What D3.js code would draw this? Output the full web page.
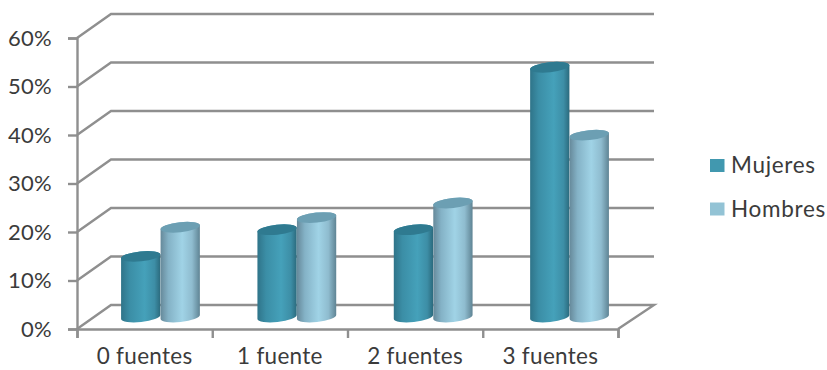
<!DOCTYPE html>
<html>
<head>
<meta charset="utf-8">
<script src="https://cdn.jsdelivr.net/npm/d3@7/dist/d3.min.js"></script>
<style>
  html, body { margin: 0; padding: 0; background: #fff; }
  svg { display: block; }
  text { font-family: Lato, "Open Sans", sans-serif; fill: #3b3b3b; }
</style>
</head>
<body>
<svg id="chart" width="827" height="370"></svg>
<script>
const categories = ["0 fuentes", "1 fuente", "2 fuentes", "3 fuentes"];
const seriesNames = ["Mujeres", "Hombres"];
const mujeres = [12.5, 18, 18, 51.5];
const hombres = [18.5, 20.5, 23.5, 37.5];
const percentTicks = [0, 10, 20, 30, 40, 50, 60];

const svg = d3.select("#chart");
const axisColor = "#8f8f8f";

// Plot frame: front floor edge plus the depth offset of the back wall.
const frame = { left: 77, right: 618, top: 38, bottom: 329 };
const depth = { dx: 34, dy: -24 };

const x = d3.scaleBand().domain(categories).range([frame.left, frame.right]);
const y = d3.scaleLinear().domain([0, 60]).range([frame.bottom, frame.top]);
// Cylinders stand on the mid-depth plane of the floor, so their bands run a little wider.
const xBars = d3.scaleBand().domain(categories).range([92.3, 637.7]);
const series = d3.scaleBand().domain(seriesNames).range([-39.5, 39.5]);

// Horizontal shading across each cylinder.
const defs = svg.append("defs");
function shade(id, stops) {
  const g = defs.append("linearGradient").attr("id", id)
    .attr("x1", 0).attr("x2", 1).attr("y1", 0).attr("y2", 0);
  stops.forEach(([o, c]) => g.append("stop").attr("offset", o).attr("stop-color", c));
}
shade("bodyMujeres", [[0, "#2f7489"], [0.22, "#3b8ea6"], [0.6, "#45a1ba"], [0.85, "#3d8ea6"], [1, "#2b6a7d"]]);
shade("bodyHombres", [[0, "#66899a"], [0.2, "#84b2c6"], [0.55, "#a0d3e6"], [0.8, "#8fbccf"], [1, "#5f8494"]]);
const seriesStyle = {
  Mujeres: { body: "url(#bodyMujeres)", cap: "#2f7a90", swatch: "#4198af" },
  Hombres: { body: "url(#bodyHombres)", cap: "#6c9fb3", swatch: "#93c3d5" }
};

// Walls and floor.
const frameLayer = svg.append("g").attr("fill", "none")
  .attr("stroke", axisColor).attr("stroke-width", 2.4);
frameLayer.selectAll("path.grid").data(percentTicks).join("path")
  .attr("class", "grid")
  .attr("d", v => `M${frame.left},${y(v)}l${depth.dx},${depth.dy}` +
    (v === 0 ? `H${frame.right + depth.dx + 2}l${-(depth.dx + 2)},${-depth.dy}`
             : `H${frame.right + depth.dx + 2}`));

function styleAxisText(sel, size) {
  sel.attr("font-size", size)
    .style("font-family", "Lato, sans-serif")
    .style("letter-spacing", "0.3px")
    .style("fill", "#3b3b3b");
}

// Value axis.
const yAxis = svg.append("g")
  .attr("transform", `translate(${frame.left},0)`)
  .call(d3.axisLeft(y).tickValues(percentTicks).tickSize(9).tickPadding(16)
    .tickFormat(d => d + "%"));
yAxis.selectAll("path,line").attr("stroke", axisColor).attr("stroke-width", 2.4);
styleAxisText(yAxis.selectAll("text"), 22);

// Category axis: labels centred on bands, ticks on band boundaries.
const boundary = d3.scaleLinear().domain([0, categories.length]).range([frame.left, frame.right]);
const xTicks = svg.append("g").attr("transform", `translate(0,${frame.bottom})`)
  .call(d3.axisBottom(boundary).tickValues(d3.range(categories.length + 1)).tickSize(9).tickFormat(""));
xTicks.selectAll("path,line").attr("stroke", axisColor).attr("stroke-width", 2.4);
const xLabels = svg.append("g").attr("transform", `translate(0,${frame.bottom})`)
  .call(d3.axisBottom(x).tickSize(0).tickPadding(19));
xLabels.select("path").remove();
styleAxisText(xLabels.selectAll("text"), 22.5);

// Cylinders with slightly tilted elliptical ends.
const rows = categories.flatMap((c, i) => [
  { cat: c, name: "Mujeres", value: mujeres[i] },
  { cat: c, name: "Hombres", value: hombres[i] }
]);
const rx = series.bandwidth() / 2, ry = 5, tilt = -6;
const lift = 12;
const tiltRad = tilt * Math.PI / 180;
const endX = rx * Math.cos(tiltRad), endY = rx * Math.sin(tiltRad);

const bars = svg.append("g").selectAll("g").data(rows).join("g")
  .attr("transform", d => {
    const cx = xBars(d.cat) + xBars.bandwidth() / 2 + series(d.name) + rx;
    return `translate(${cx},0)`;
  });
bars.append("path")
  .attr("fill", d => seriesStyle[d.name].body)
  .attr("d", d => {
    const top = y(d.value) - lift, base = y(0) - lift;
    return `M${-endX},${top - endY}L${-endX},${base - endY}` +
      `A${rx},${ry} ${tilt} 0 0 ${endX},${base + endY}` +
      `L${endX},${top + endY}` +
      `A${rx},${ry} ${tilt} 0 0 ${-endX},${top - endY}Z`;
  });
bars.append("ellipse")
  .attr("rx", rx).attr("ry", ry)
  .attr("fill", d => seriesStyle[d.name].cap)
  .attr("transform", d => `translate(0,${y(d.value) - lift}) rotate(${tilt})`);

// Legend.
const legend = svg.append("g").attr("transform", "translate(710,0)");
const legendY = d3.scalePoint().domain(seriesNames).range([165.5, 209]);
legend.selectAll("rect").data(seriesNames).join("rect")
  .attr("x", 0).attr("y", d => legendY(d) - 6.5)
  .attr("width", 14.5).attr("height", 13)
  .attr("fill", d => seriesStyle[d].swatch);
legend.selectAll("text").data(seriesNames).join("text")
  .attr("x", 21).attr("y", d => legendY(d)).attr("dy", "0.35em")
  .attr("font-size", 22.5).style("letter-spacing", "0.7px").text(d => d);
</script>
</body>
</html>
